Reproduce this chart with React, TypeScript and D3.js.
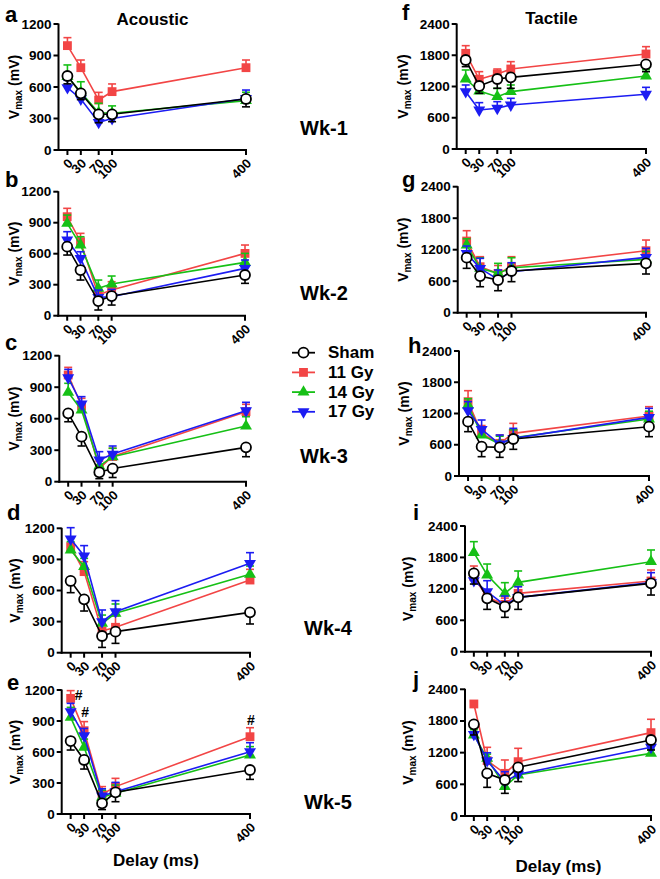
import React from 'react';
import * as d3 from 'd3';

const delays = [0, 30, 70, 100, 400];
const groups = ['Sham', '11 Gy', '14 Gy', '17 Gy'];
const panelLetters = ['a', 'b', 'c', 'd', 'e', 'f', 'g', 'h', 'i', 'j'];
const weekLabels = ['Wk-1', 'Wk-2', 'Wk-3', 'Wk-4', 'Wk-5'];
const acousticTicks = [0, 300, 600, 900, 1200];
const tactileTicks = [0, 600, 1200, 1800, 2400];

// rows: panels a..j (a-e acoustic, f-j tactile)
const shamMean = [
  [705, 540, 340, 340, 486],
  [668, 442, 142, 190, 394],
  [651, 429, 89, 125, 327],
  [692, 515, 161, 203, 389],
  [706, 523, 103, 210, 426],
  [1709, 1210, 1344, 1376, 1626],
  [1048, 698, 622, 794, 940],
  [1043, 563, 550, 710, 947],
  [1496, 1019, 859, 1038, 1305],
  [1737, 808, 682, 922, 1440],
];
const shamErr = [
  [75, 60, 80, 70, 75],
  [81, 97, 87, 87, 81],
  [80, 89, 60, 85, 89],
  [113, 113, 110, 113, 112],
  [87, 88, 60, 91, 91],
  [128, 141, 179, 211, 141],
  [203, 203, 203, 203, 203],
  [192, 192, 192, 198, 192],
  [204, 211, 203, 230, 223],
  [202, 265, 253, 271, 190],
];
const gy11Mean = [
  [994, 784, 476, 556, 784],
  [958, 716, 200, 248, 603],
  [1016, 724, 127, 240, 667],
  [1023, 782, 209, 245, 701],
  [1119, 806, 190, 265, 748],
  [1837, 1338, 1440, 1536, 1824],
  [1365, 876, 749, 876, 1181],
  [1427, 819, 627, 819, 1152],
  [1432, 1038, 904, 1114, 1350],
  [2122, 1048, 808, 1029, 1579],
];
const gy11Err = [
  [76, 73, 73, 73, 73],
  [81, 81, 70, 81, 81],
  [73, 70, 70, 79, 70],
  [90, 96, 90, 110, 103],
  [75, 88, 75, 80, 87],
  [147, 147, 96, 141, 141],
  [197, 191, 150, 191, 203],
  [211, 150, 160, 192, 179],
  [204, 130, 120, 130, 210],
  [50, 253, 253, 253, 253],
];
const gy14Mean = [
  [700, 550, 355, 350, 470],
  [894, 684, 265, 306, 516],
  [851, 683, 149, 238, 530],
  [991, 830, 283, 380, 756],
  [935, 645, 161, 200, 571],
  [1344, 1114, 1005, 1101, 1402],
  [1289, 845, 749, 857, 1016],
  [1363, 787, 614, 736, 1094],
  [1891, 1464, 1114, 1324, 1719],
  [1535, 1093, 556, 777, 1187],
];
const gy14Err = [
  [110, 100, 90, 70, 80],
  [80, 80, 80, 78, 87],
  [86, 70, 70, 80, 89],
  [80, 80, 80, 90, 80],
  [97, 80, 70, 80, 81],
  [173, 100, 160, 128, 120],
  [120, 200, 191, 190, 150],
  [120, 150, 150, 150, 150],
  [210, 210, 204, 217, 223],
  [100, 80, 100, 100, 80],
];
const gy17Mean = [
  [594, 486, 263, 300, 490],
  [732, 555, 177, 184, 458],
  [990, 740, 206, 263, 676],
  [1097, 933, 299, 396, 862],
  [990, 758, 174, 216, 603],
  [1101, 749, 781, 845, 1050],
  [1130, 845, 635, 781, 1054],
  [1254, 896, 614, 723, 1126],
  [1356, 1146, 891, 1038, 1318],
  [1547, 1048, 651, 790, 1301],
];
const gy17Err = [
  [70, 45, 50, 60, 81],
  [81, 64, 71, 70, 81],
  [80, 70, 80, 77, 80],
  [109, 100, 113, 106, 103],
  [81, 70, 70, 90, 87],
  [128, 141, 128, 128, 134],
  [140, 190, 178, 171, 172],
  [173, 179, 173, 192, 173],
  [120, 210, 172, 203, 191],
  [240, 150, 189, 176, 202],
];

// '#' significance marks in panel e
const hashDelay = [0, 30, 400];
const hashValue = [1150, 990, 910];

// layout (pixel geometry of each panel)
const layout = [
  { left: 58.5, right: 246, top: 24, bottom: 150, lx: 5, ly: 22, labX: 13.5 },
  { left: 58.3, right: 245, top: 191.7, bottom: 315.7, lx: 5, ly: 187, labX: 13.5 },
  { left: 59.3, right: 246, top: 355.7, bottom: 481.7, lx: 5, ly: 350, labX: 14 },
  { left: 61.7, right: 250, top: 528.3, bottom: 652.7, lx: 7, ly: 520, labX: 15 },
  { left: 61.7, right: 250, top: 690, bottom: 814, lx: 7, ly: 690, labX: 15 },
  { left: 456.7, right: 646, top: 24, bottom: 149, lx: 402, ly: 20, labX: 402.5 },
  { left: 457.7, right: 646, top: 186.7, bottom: 312.7, lx: 402, ly: 187, labX: 403 },
  { left: 459, right: 649, top: 351, bottom: 476, lx: 408, ly: 353, labX: 404 },
  { left: 465, right: 651, top: 526, bottom: 651.7, lx: 413, ly: 520, labX: 407.5 },
  { left: 465, right: 651, top: 689.3, bottom: 816, lx: 413, ly: 687, labX: 407.5 },
];
const wkPos = [
  { x: 300, y: 135 },
  { x: 300, y: 300 },
  { x: 300, y: 463 },
  { x: 304, y: 635 },
  { x: 304, y: 809 },
];

const FONT = "Arial, 'Liberation Sans', Helvetica, sans-serif";
const colors = { sham: '#000000', r: '#f24545', g: '#16c016', b: '#1c1cf2' };

type Kind = 'circle' | 'square' | 'up' | 'down';

function Marker({ x, y, kind, color }: { x: number; y: number; kind: Kind; color: string }) {
  if (kind === 'circle') {
    return <circle cx={x} cy={y} r={5} fill="#fff" stroke="#000" strokeWidth={1.8} />;
  }
  if (kind === 'square') {
    const p = d3.symbol(d3.symbolSquare, 78)();
    return <path d={p || ''} transform={`translate(${x},${y})`} fill={color} />;
  }
  const p = d3.symbol(d3.symbolTriangle, 62)();
  return (
    <path
      d={p || ''}
      transform={`translate(${x},${y})${kind === 'down' ? ' rotate(180)' : ''}`}
      fill={color}
    />
  );
}

function Panel({ idx }: { idx: number }) {
  const L = layout[idx];
  const tactile = idx >= 5;
  const ticks = tactile ? tactileTicks : acousticTicks;
  const yMax = ticks[ticks.length - 1];
  const x = d3.scaleLinear().domain([-20, 400]).range([L.left, L.right]);
  const y = d3.scaleLinear().domain([0, yMax]).range([L.bottom, L.top]);
  const line = d3
    .line<number>()
    .x((_, i) => x(delays[i]))
    .y((v) => y(v));

  const series = [
    { mean: gy11Mean[idx], err: gy11Err[idx], color: colors.r, kind: 'square' as Kind, dir: 1 },
    { mean: gy14Mean[idx], err: gy14Err[idx], color: colors.g, kind: 'up' as Kind, dir: 1 },
    { mean: gy17Mean[idx], err: gy17Err[idx], color: colors.b, kind: 'down' as Kind, dir: 1 },
    { mean: shamMean[idx], err: shamErr[idx], color: colors.sham, kind: 'circle' as Kind, dir: -1 },
  ];
  const midY = (L.top + L.bottom) / 2;

  return (
    <g>
      <text x={L.lx} y={L.ly} fontSize={22} fontWeight="bold" fontFamily={FONT}>
        {panelLetters[idx]}
      </text>
      {/* y label */}
      <text
        transform={`translate(${L.labX},${midY}) rotate(-90)`}
        textAnchor="middle"
        dominantBaseline="central"
        fontSize={14}
        fontWeight="bold"
        fontFamily={FONT}
      >
        V
        <tspan fontSize={10} dy={4}>
          max
        </tspan>
        <tspan dy={-4}> (mV)</tspan>
      </text>
      {/* y axis */}
      <line x1={L.left} x2={L.left} y1={L.top - 0.5} y2={L.bottom + 1} stroke="#000" strokeWidth={2} />
      {ticks.map((t) => (
        <g key={t}>
          <line x1={L.left - 5} x2={L.left} y1={y(t)} y2={y(t)} stroke="#000" strokeWidth={2} />
          <text
            x={L.left - 7}
            y={y(t)}
            textAnchor="end"
            dominantBaseline="central"
            fontSize={13.5}
            fontWeight="bold"
            fontFamily={FONT}
          >
            {t}
          </text>
        </g>
      ))}
      {/* x axis */}
      <line x1={L.left - 1} x2={x(400) + 1} y1={L.bottom} y2={L.bottom} stroke="#000" strokeWidth={2} />
      {delays.map((d) => (
        <g key={d}>
          <line x1={x(d)} x2={x(d)} y1={L.bottom} y2={L.bottom + 5} stroke="#000" strokeWidth={2} />
          <text
            transform={`translate(${x(d) + 3},${L.bottom + 11}) rotate(-45)`}
            textAnchor="end"
            dominantBaseline="central"
            fontSize={13}
            fontWeight="bold"
            fontFamily={FONT}
          >
            {d}
          </text>
        </g>
      ))}
      {/* series */}
      {series.map((s, si) => (
        <g key={si}>
          <path d={line(s.mean) || ''} fill="none" stroke={s.color} strokeWidth={1.6} />
          {s.mean.map((m, i) => {
            const cx = x(delays[i]);
            const ye = y(m + s.dir * s.err[i]);
            return (
              <g key={i}>
                <line x1={cx} x2={cx} y1={y(m)} y2={ye} stroke={s.color} strokeWidth={1.6} />
                <line x1={cx - 4} x2={cx + 4} y1={ye} y2={ye} stroke={s.color} strokeWidth={1.6} />
              </g>
            );
          })}
          {s.mean.map((m, i) => (
            <Marker key={'m' + i} x={x(delays[i])} y={y(m)} kind={s.kind} color={s.color} />
          ))}
        </g>
      ))}
      {idx === 4 &&
        hashDelay.map((d, i) => (
          <text
            key={'h' + i}
            x={x(d) + (d === 0 ? 8 : 1)}
            y={y(hashValue[i])}
            textAnchor="middle"
            dominantBaseline="central"
            fontSize={14}
            fontWeight="bold"
            fontFamily={FONT}
          >
            #
          </text>
        ))}
    </g>
  );
}

export default function App() {
  const legendKinds: Kind[] = ['circle', 'square', 'up', 'down'];
  const legendColors = [colors.sham, colors.r, colors.g, colors.b];
  return (
    <svg
      width={660}
      height={879}
      style={{ position: 'absolute', left: 0, top: 0, background: '#fff' }}
      fontFamily={FONT}
    >
      <rect x={0} y={0} width={660} height={879} fill="#fff" />
      <text x={152.5} y={25} textAnchor="middle" fontSize={17} fontWeight="bold">
        Acoustic
      </text>
      <text x={551.5} y={24} textAnchor="middle" fontSize={17} fontWeight="bold">
        Tactile
      </text>
      {panelLetters.map((_, i) => (
        <Panel key={i} idx={i} />
      ))}
      {weekLabels.map((w, i) => (
        <text key={w} x={wkPos[i].x} y={wkPos[i].y} fontSize={20} fontWeight="bold">
          {w}
        </text>
      ))}
      {groups.map((g, i) => {
        const cy = 352.7 + i * 19.7;
        return (
          <g key={g}>
            <line x1={292} x2={315} y1={cy} y2={cy} stroke={legendColors[i]} strokeWidth={1.8} />
            <Marker x={303.5} y={cy} kind={legendKinds[i]} color={legendColors[i]} />
            <text x={328} y={cy} dominantBaseline="central" fontSize={17} fontWeight="bold">
              {g}
            </text>
          </g>
        );
      })}
      <text x={156} y={866} textAnchor="middle" fontSize={17} fontWeight="bold">
        Delay (ms)
      </text>
      <text x={558.5} y={872} textAnchor="middle" fontSize={17} fontWeight="bold">
        Delay (ms)
      </text>
    </svg>
  );
}
